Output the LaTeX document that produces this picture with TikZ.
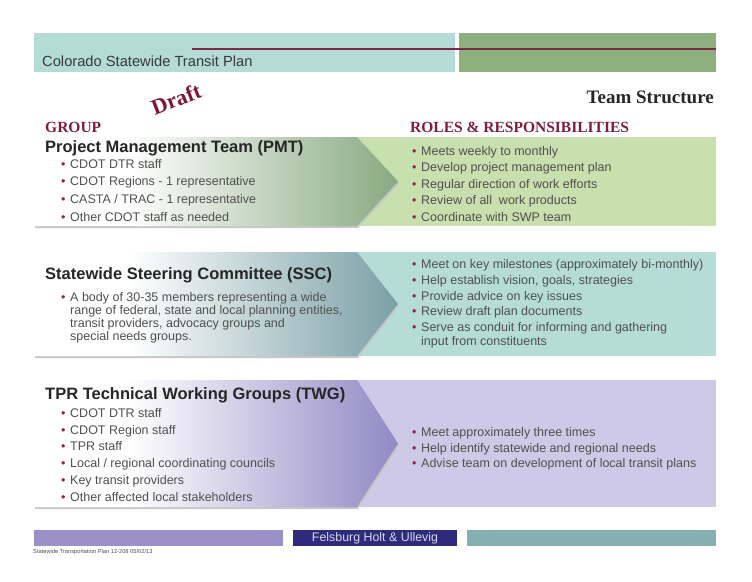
\documentclass[tikz,border=0pt]{standalone}
\usepackage{fontspec}
\setmainfont{Liberation Sans}
\newfontfamily\serifhead{Liberation Serif}
\usepackage{xcolor}
\definecolor{cHeadTeal}{HTML}{B3DCD7}
\definecolor{cHeadGreen}{HTML}{8DAF7D}
\definecolor{cRule}{HTML}{7B2B48}
\definecolor{cHead}{HTML}{7D1E3E}
\definecolor{cDraft}{HTML}{7A1838}
\definecolor{cBullet}{HTML}{8E2446}
\definecolor{cTitle}{HTML}{262626}
\definecolor{cText}{HTML}{505050}
\definecolor{cPmtFill}{HTML}{C8DFAE}
\definecolor{cPmtTip}{HTML}{88AA80}
\definecolor{cSscFill}{HTML}{B5DCD7}
\definecolor{cSscTip}{HTML}{7AA0A6}
\definecolor{cTwgFill}{HTML}{CDC9E6}
\definecolor{cTwgTip}{HTML}{9189C4}
\definecolor{cFootPurple}{HTML}{9A8FC7}
\definecolor{cFootNavy}{HTML}{2E2A7C}
\definecolor{cFootTeal}{HTML}{86AFB1}
\definecolor{cFootText}{HTML}{D8D6F0}
\usepackage{tikz}
\usetikzlibrary{positioning,calc}
\pgfdeclarehorizontalshading{pmtshade}{100bp}{color(0bp)=(white); color(25bp)=(white);
  color(38bp)=(white); color(75bp)=(cPmtTip); color(100bp)=(cPmtTip)}
\pgfdeclarehorizontalshading{sscshade}{100bp}{color(0bp)=(white); color(25bp)=(white);
  color(38bp)=(white); color(75bp)=(cSscTip); color(100bp)=(cSscTip)}
\pgfdeclarehorizontalshading{twgshade}{100bp}{color(0bp)=(white); color(25bp)=(white);
  color(38bp)=(white); color(75bp)=(cTwgTip); color(100bp)=(cTwgTip)}
\newcommand{\itm}[1]{\makebox[9pt][l]{\textcolor{cBullet}{\textbullet}}#1}
\tikzset{
  txt-plan/.style={anchor=base west,inner sep=0pt,text=black!78,
    font=\fontsize{14.7}{17}\selectfont},
  txt-draft/.style={inner sep=0pt,rotate=21,text=cDraft,
    font=\serifhead\bfseries\fontsize{22}{24}\selectfont},
  txt-team/.style={anchor=base east,inner sep=0pt,text=black!85,
    font=\serifhead\bfseries\fontsize{19}{21}\selectfont},
  txt-head/.style={anchor=base west,inner sep=0pt,text=cHead,
    font=\serifhead\bfseries\fontsize{15.5}{18}\selectfont},
  txt-title/.style={anchor=base west,inner sep=0pt,text=cTitle,
    font=\bfseries\fontsize{16.5}{19}\selectfont},
  txt-item/.style={anchor=base west,inner sep=0pt,text=cText,
    font=\fontsize{12.5}{14}\selectfont},
  txt-firm/.style={inner sep=0pt,text=cFootText,font=\fontsize{12.4}{14}\selectfont},
  txt-note/.style={anchor=west,inner sep=0pt,text=black!70,font=\fontsize{5.7}{6}\selectfont},
  head-rule/.style={draw=cRule,line width=2.4pt},
  box-shadow/.style={fill=black!22},
}

\begin{document}
\begin{tikzpicture}[x=1pt,y=-1pt]
  \useasboundingbox (0,0) rectangle (752,581);
  % header band
  \fill[cHeadTeal] (34,33) rectangle (455,72);
  \fill[cHeadGreen] (459,33) rectangle (716,72);
  \draw[head-rule] (192,49) -- (716,49);
  \node[txt-plan] (plan) at (42,66) {Colorado Statewide Transit Plan};
  \node[txt-draft] (draft) at (176,99) {Draft};
  \node[txt-team] (team) at (714,103) {Team Structure};
  \node[txt-head] (group) at (45,132) {GROUP};
  \node[txt-head] (roles) at (410,132) {ROLES \& RESPONSIBILITIES};

  % the three panels
  \foreach \top/\bot/\fil/\shd in {137/226/cPmtFill/pmtshade,
      252/356/cSscFill/sscshade, 380/507/cTwgFill/twgshade} {
    \fill[\fil] (357,\top) rectangle (716,\bot);
    \fill[box-shadow,shift={(1,2)}] (34,\top) -- (357,\top)
      -- (398,{(\top+\bot)/2}) -- (357,\bot) -- (34,\bot) -- cycle;
    \shade[shading=\shd] (34,\top) -- (357,\top)
      -- (398,{(\top+\bot)/2}) -- (357,\bot) -- (34,\bot) -- cycle;
  }

  % PMT
  \node[txt-title] (pmt) at (45,152.5) {Project Management Team (PMT)};
  \foreach \txt [count=\i] in {CDOT DTR staff, CDOT Regions - 1 representative,
      CASTA / TRAC - 1 representative, Other CDOT staff as needed}
    \node[txt-item] (pmt-g\i) at (61,{168+17.8*(\i-1)}) {\itm{\txt}};
  \foreach \txt [count=\i] in {Meets weekly to monthly, Develop project management plan,
      Regular direction of work efforts, Review of all\ \ work products,
      Coordinate with SWP team}
    \node[txt-item] (pmt-r\i) at (412,{155.2+16.5*(\i-1)}) {\itm{\txt}};

  % SSC
  \node[txt-title] (ssc) at (45,279) {Statewide Steering Committee (SSC)};
  \node[txt-item] (ssc-g1) at (61,301.2) {\itm{A body of 30-35 members representing a wide}};
  \node[txt-item] (ssc-g2) at (70,314.5) {range of federal, state and local planning entities,};
  \node[txt-item] (ssc-g3) at (70,327.8) {transit providers, advocacy groups and};
  \node[txt-item] (ssc-g4) at (70,340.2) {special needs groups.};
  \foreach \txt [count=\i] in {Meet on key milestones (approximately bi-monthly),
      {Help establish vision, goals, strategies}, Provide advice on key issues,
      Review draft plan documents, Serve as conduit for informing and gathering}
    \node[txt-item] (ssc-r\i) at (412,{268.5+15.8*(\i-1)}) {\itm{\txt}};
  \node[txt-item] (ssc-r6) at (421,345.5) {input from constituents};

  % TWG
  \node[txt-title] (twg) at (45,399) {TPR Technical Working Groups (TWG)};
  \foreach \txt [count=\i] in {CDOT DTR staff, CDOT Region staff, TPR staff,
      Local / regional coordinating councils, Key transit providers,
      Other affected local stakeholders}
    \node[txt-item] (twg-g\i) at (61,{417.2+16.8*(\i-1)}) {\itm{\txt}};
  \foreach \txt [count=\i] in {Meet approximately three times,
      Help identify statewide and regional needs,
      Advise team on development of local transit plans}
    \node[txt-item] (twg-r\i) at (412,{436.2+15.8*(\i-1)}) {\itm{\txt}};

  % footer
  \fill[cFootPurple] (34,530) rectangle (283,546);
  \fill[cFootNavy] (293,530) rectangle (457,546);
  \fill[cFootTeal] (467,530) rectangle (716,546);
  \node[txt-firm] (firm) at (375,538) {Felsburg Holt \& Ullevig};
  \node[txt-note] (note) at (33,552) {Statewide Transportation Plan 12-208 05/02/13};
\end{tikzpicture}
\end{document}
